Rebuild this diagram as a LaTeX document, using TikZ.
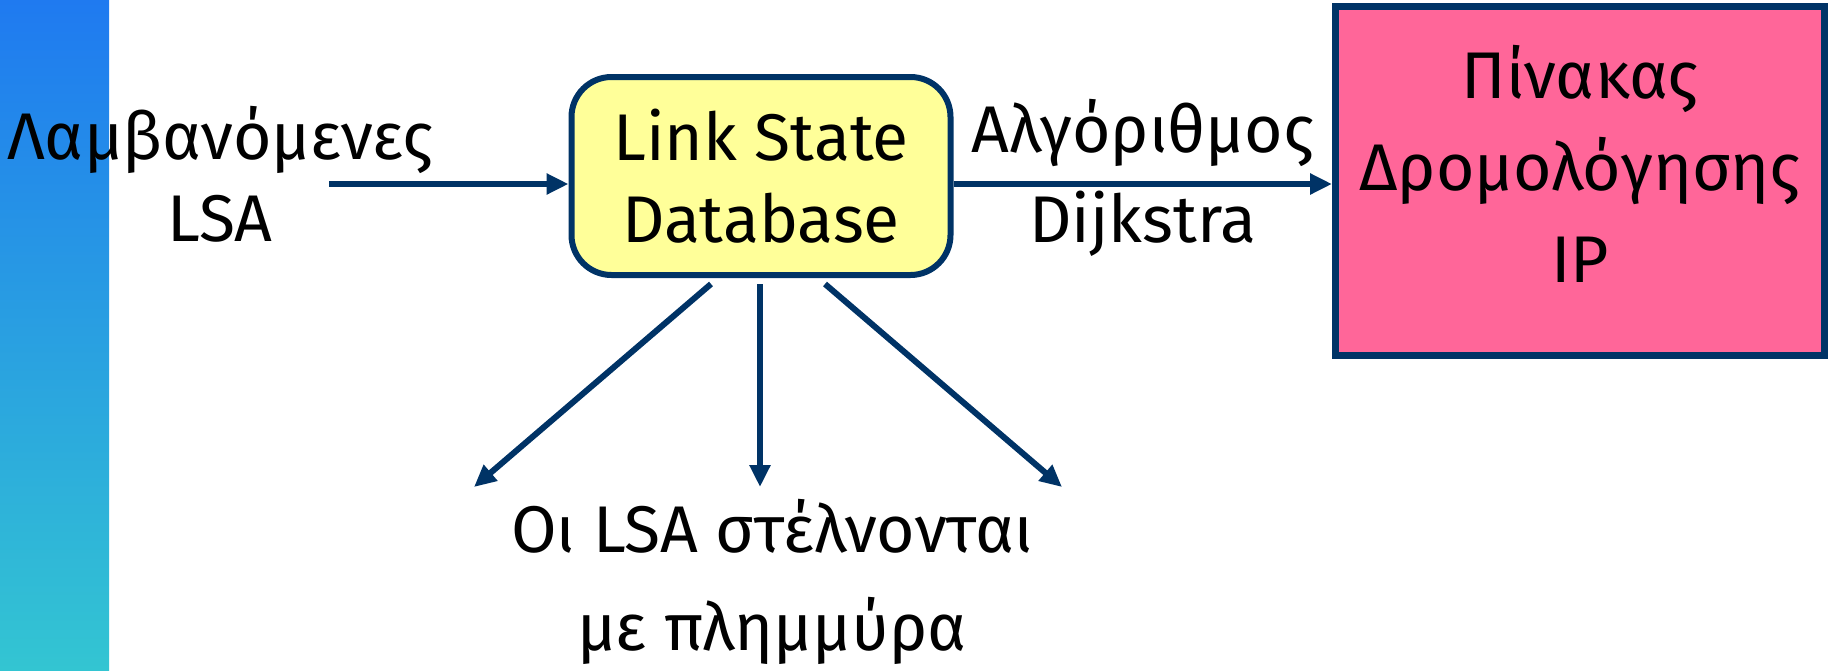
\documentclass[tikz,border=0pt]{standalone}
\usepackage{fontspec}
\setmainfont{Fira Sans}
\usepackage{tikz}
\usetikzlibrary{positioning, arrows.meta}
\definecolor{navy}{RGB}{0,51,102}
\definecolor{lsyellow}{RGB}{255,255,153}
\definecolor{rtpink}{RGB}{255,102,153}
\definecolor{bartop}{RGB}{31,122,240}
\definecolor{barbottom}{RGB}{51,197,210}
\tikzstyle{bigtext} = [font=\fontsize{66}{82}\selectfont, align=center,
                       text=black, inner sep=4pt]
\tikzstyle{dbbox} = [rectangle, rounded corners=40pt, minimum width=379pt,
                     minimum height=198pt, draw=navy, line width=6pt,
                     fill=lsyellow, bigtext]
\tikzstyle{tablebox} = [rectangle, minimum width=489pt, minimum height=349pt,
                        draw=navy, line width=7pt, fill=rtpink, bigtext,
                        text depth=34pt]
\tikzstyle{arrow} = [navy, line width=6pt, -{Triangle[length=22pt,width=20pt]}]

\begin{document}
\begin{tikzpicture}[x=1pt, y=-1pt]
\useasboundingbox (0,0) rectangle (1832,670);
\shade [top color=bartop, bottom color=barbottom] (0,0) rectangle (109,670);

\node (recv) [bigtext] at (220,174) {Λαμβανόμενες\\LSA};
\node (lsdb) [dbbox] at (761,176) {Link State\\Database};
\node (rtable) [tablebox] at (1580,181) {Πίνακας\\[10pt]Δρομολόγησης\\[10pt]IP};
\node (flood) [bigtext] at (772,582) {Οι LSA στέλνονται\\[16pt]με πλημμύρα};

\coordinate (lsaIn) at (329,184);
\coordinate (floodL) at (474,487);
\coordinate (floodM) at (760,487);
\coordinate (floodR) at (1062,487);

\draw [arrow] (lsaIn) -- (lsdb.west |- lsaIn);
\draw [arrow] (lsdb.east |- lsaIn) -- node[above=10pt, bigtext] {Αλγόριθμος}
                                      node[below, bigtext] {Dijkstra} (rtable.west |- lsaIn);
\draw [arrow] ([xshift=-50pt, yshift=-6pt]lsdb.south) -- (floodL);
\draw [arrow] ([yshift=-6pt]lsdb.south -| floodM) -- (floodM);
\draw [arrow] ([xshift=64pt, yshift=-6pt]lsdb.south) -- (floodR);
\end{tikzpicture}
\end{document}
